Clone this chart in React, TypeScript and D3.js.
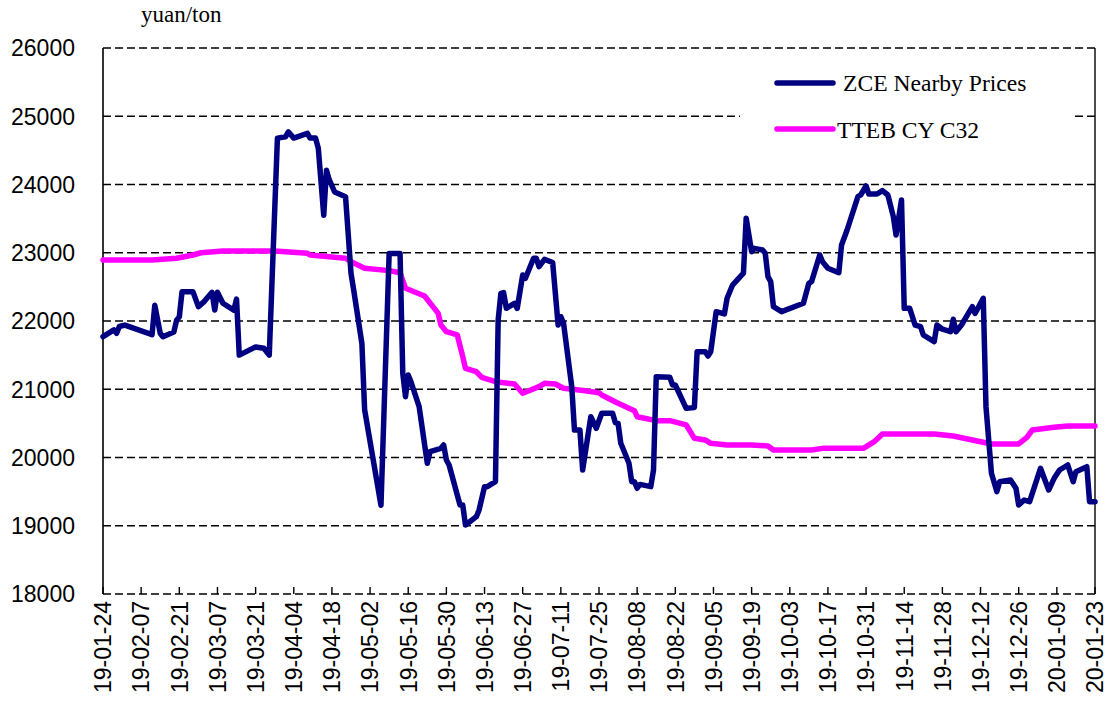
import * as d3 from 'd3';

const parse = d3.timeParse('%y-%m-%d');

// tick labels along the bottom (every two weeks)
const xTickLabels = [
  '19-01-24', '19-02-07', '19-02-21', '19-03-07', '19-03-21', '19-04-04', '19-04-18',
  '19-05-02', '19-05-16', '19-05-30', '19-06-13', '19-06-27', '19-07-11', '19-07-25',
  '19-08-08', '19-08-22', '19-09-05', '19-09-19', '19-10-03', '19-10-17', '19-10-31',
  '19-11-14', '19-11-28', '19-12-12', '19-12-26', '20-01-09', '20-01-23',
];
const yTicks = [18000, 19000, 20000, 21000, 22000, 23000, 24000, 25000, 26000];

// ZCE nearby futures
const zceDates = [
  '19-01-24', '19-01-28', '19-01-29', '19-01-30', '19-02-01', '19-02-11', '19-02-12', '19-02-14',
  '19-02-15', '19-02-19', '19-02-20', '19-02-21', '19-02-22', '19-02-26', '19-02-28', '19-03-02',
  '19-03-05', '19-03-06', '19-03-07', '19-03-09', '19-03-13', '19-03-14', '19-03-15', '19-03-21',
  '19-03-24', '19-03-26', '19-03-29', '19-04-01', '19-04-02', '19-04-04', '19-04-09', '19-04-10',
  '19-04-12', '19-04-13', '19-04-15', '19-04-16', '19-04-17', '19-04-19', '19-04-23', '19-04-25',
  '19-04-26', '19-04-29', '19-04-30', '19-05-06', '19-05-09', '19-05-13', '19-05-14', '19-05-15',
  '19-05-16', '19-05-17', '19-05-20', '19-05-23', '19-05-24', '19-05-28', '19-05-29', '19-05-30',
  '19-05-31', '19-06-04', '19-06-05', '19-06-06', '19-06-10', '19-06-11', '19-06-13', '19-06-14',
  '19-06-17', '19-06-18', '19-06-19', '19-06-20', '19-06-21', '19-06-24', '19-06-25', '19-06-27',
  '19-06-28', '19-07-01', '19-07-02', '19-07-03', '19-07-05', '19-07-08', '19-07-10', '19-07-11',
  '19-07-12', '19-07-15', '19-07-16', '19-07-18', '19-07-19', '19-07-22', '19-07-24', '19-07-26',
  '19-07-30', '19-07-31', '19-08-01', '19-08-02', '19-08-05', '19-08-06', '19-08-07', '19-08-08',
  '19-08-09', '19-08-13', '19-08-14', '19-08-15', '19-08-20', '19-08-21', '19-08-22', '19-08-26',
  '19-08-29', '19-08-30', '19-09-02', '19-09-03', '19-09-04', '19-09-06', '19-09-09', '19-09-10',
  '19-09-12', '19-09-16', '19-09-17', '19-09-19', '19-09-20', '19-09-23', '19-09-24', '19-09-25',
  '19-09-26', '19-09-27', '19-09-30', '19-10-08', '19-10-10', '19-10-11', '19-10-14', '19-10-15',
  '19-10-16', '19-10-17', '19-10-21', '19-10-22', '19-10-24', '19-10-28', '19-10-29', '19-10-31',
  '19-11-01', '19-11-04', '19-11-06', '19-11-08', '19-11-10', '19-11-11', '19-11-13', '19-11-14',
  '19-11-16', '19-11-18', '19-11-20', '19-11-21', '19-11-25', '19-11-26', '19-11-28', '19-12-01',
  '19-12-02', '19-12-03', '19-12-05', '19-12-09', '19-12-10', '19-12-13', '19-12-14', '19-12-16',
  '19-12-18', '19-12-19', '19-12-23', '19-12-25', '19-12-26', '19-12-28', '19-12-30', '20-01-03',
  '20-01-06', '20-01-08', '20-01-10', '20-01-13', '20-01-15', '20-01-16', '20-01-20', '20-01-21',
  '20-01-23',
];
const zceValues = [
  21770, 21870, 21820, 21920, 21940, 21800, 22230, 21820,
  21770, 21840, 22010, 22060, 22430, 22430, 22210, 22280,
  22420, 22160, 22420, 22260, 22160, 22320, 21500, 21620,
  21600, 21500, 24680, 24700, 24770, 24680, 24750, 24680,
  24680, 24530, 23550, 24210, 24070, 23890, 23820, 22700,
  22450, 21670, 20700, 19300, 22990, 22990, 21230, 20890,
  21210, 21110, 20745, 19915, 20085, 20134, 20183, 19963,
  19890, 19304, 19304, 19011, 19133, 19231, 19573, 19573,
  19646, 22015, 22405, 22415, 22186, 22259, 22186, 22674,
  22626, 22919, 22919, 22796, 22903, 22857, 21941, 22063,
  21966, 21038, 20403, 20403, 19817, 20598, 20428, 20648,
  20648, 20510, 20500, 20208, 19915, 19646, 19646, 19549,
  19606, 19573, 19817, 21184, 21175, 21062, 21062, 20720,
  20733, 21550, 21550, 21487, 21550, 22137, 22103, 22333,
  22527, 22700, 23505, 23016, 23064, 23040, 22992, 22650,
  22577, 22210, 22137, 22260, 22552, 22577, 22967, 22870,
  22821, 22772, 22708, 23114, 23330, 23822, 23846, 23978,
  23861, 23861, 23910, 23846, 23529, 23260, 23773, 22186,
  22186, 21941, 21917, 21795, 21697, 21941, 21880, 21843,
  22025, 21843, 21941, 22210, 22112, 22333, 20745, 19768,
  19500, 19646, 19670, 19549, 19304, 19377, 19353, 19842,
  19524, 19695, 19817, 19890, 19646, 19793, 19866, 19353,
  19353,
];

// TTEB cotton yarn C32 spot
const ttebDates = [
  '19-01-24', '19-02-11', '19-02-20', '19-02-26', '19-03-01', '19-03-09', '19-03-28', '19-04-09',
  '19-04-10', '19-04-23', '19-04-25', '19-04-30', '19-05-09', '19-05-13', '19-05-15', '19-05-22',
  '19-05-27', '19-05-28', '19-05-30', '19-06-03', '19-06-05', '19-06-06', '19-06-10', '19-06-12',
  '19-06-17', '19-06-24', '19-06-27', '19-07-03', '19-07-05', '19-07-09', '19-07-12', '19-07-20',
  '19-07-25', '19-07-26', '19-08-01', '19-08-07', '19-08-08', '19-08-15', '19-08-20', '19-08-26',
  '19-08-29', '19-09-02', '19-09-04', '19-09-10', '19-09-19', '19-09-25', '19-09-27', '19-10-11',
  '19-10-15', '19-10-30', '19-11-03', '19-11-06', '19-11-25', '19-12-02', '19-12-09', '19-12-16',
  '19-12-26', '19-12-29', '19-12-31', '20-01-08', '20-01-13', '20-01-23',
];
const ttebValues = [
  22894, 22894, 22919, 22967, 23000, 23026, 23026, 22992,
  22967, 22919, 22870, 22772, 22738, 22708, 22479, 22366,
  22112, 21941, 21843, 21795, 21477, 21307, 21257, 21175,
  21111, 21077, 20941, 21038, 21087, 21077, 21014, 20979,
  20950, 20916, 20794, 20686, 20598, 20540, 20540, 20477,
  20281, 20257, 20208, 20183, 20183, 20169, 20110, 20110,
  20134, 20134, 20232, 20344, 20344, 20315, 20257, 20198,
  20198, 20296, 20403, 20442, 20462, 20462,
];

const sans = '"Liberation Sans", Arial, sans-serif';
const serif = '"Liberation Serif", "Times New Roman", serif';

export default function App() {
  const width = 1111;
  const height = 702;
  const left = 103;
  const right = 1095;
  const top = 48;
  const bottom = 594;

  const x = d3
    .scaleTime()
    .domain([parse(xTickLabels[0]) as Date, parse(xTickLabels[xTickLabels.length - 1]) as Date])
    .range([left, right]);
  const y = d3.scaleLinear().domain([18000, 26000]).range([bottom, top]);

  const line = d3
    .line<[Date, number]>()
    .x((d) => x(d[0]))
    .y((d) => y(d[1]));

  const zce = zceDates.map((d, i) => [parse(d) as Date, zceValues[i]] as [Date, number]);
  const tteb = ttebDates.map((d, i) => [parse(d) as Date, ttebValues[i]] as [Date, number]);

  return (
    <svg
      width={width}
      height={height}
      style={{ position: 'absolute', left: 0, top: 0, background: '#fff' }}
    >
      {/* dashed gridlines */}
      {yTicks.map((t) => (
        <line
          key={t}
          x1={left}
          x2={right}
          y1={y(t)}
          y2={y(t)}
          stroke="#000"
          strokeWidth={1.6}
          strokeDasharray="8,4"
        />
      ))}

      {/* y labels */}
      {yTicks.map((t) => (
        <text
          key={t}
          x={75}
          y={y(t)}
          dy="0.36em"
          textAnchor="end"
          fontFamily={sans}
          fontSize={23}
          fill="#000"
        >
          {t}
        </text>
      ))}

      {/* frame: left axis and right border */}
      <line x1={left} x2={left} y1={top} y2={bottom} stroke="#000" strokeWidth={1.6} />
      <line x1={right} x2={right} y1={top} y2={bottom} stroke="#000" strokeWidth={1.4} />

      {/* x ticks + labels */}
      {xTickLabels.map((lab) => {
        const px = x(parse(lab) as Date);
        return (
          <g key={lab}>
            <line x1={px} x2={px} y1={bottom} y2={bottom - 7} stroke="#000" strokeWidth={1.4} />
            <text
              transform={`translate(${px},${bottom + 7}) rotate(-90)`}
              dy="0.36em"
              textAnchor="end"
              fontFamily={sans}
              fontSize={23}
              fill="#000"
            >
              {lab}
            </text>
          </g>
        );
      })}

      <text x={141} y={22} fontFamily={serif} fontSize={23} fill="#000">
        yuan/ton
      </text>

      {/* series */}
      <path
        d={line(tteb) ?? ''}
        fill="none"
        stroke="#FF00FF"
        strokeWidth={5.5}
        strokeLinejoin="round"
        strokeLinecap="round"
      />
      <path
        d={line(zce) ?? ''}
        fill="none"
        stroke="#000080"
        strokeWidth={5.5}
        strokeLinejoin="round"
        strokeLinecap="round"
      />

      {/* legend */}
      <rect x={740} y={58} width={332} height={92} fill="#fff" />
      <line x1={777} x2={833} y1={83} y2={83} stroke="#000080" strokeWidth={5.5} strokeLinecap="round" />
      <text x={843} y={91} fontFamily={serif} fontSize={23.6} fill="#000">
        ZCE Nearby Prices
      </text>
      <line x1={777} x2={833} y1={129} y2={129} stroke="#FF00FF" strokeWidth={5.5} strokeLinecap="round" />
      <text x={837} y={138} fontFamily={serif} fontSize={23.6} fill="#000">
        TTEB CY C32
      </text>
    </svg>
  );
}
